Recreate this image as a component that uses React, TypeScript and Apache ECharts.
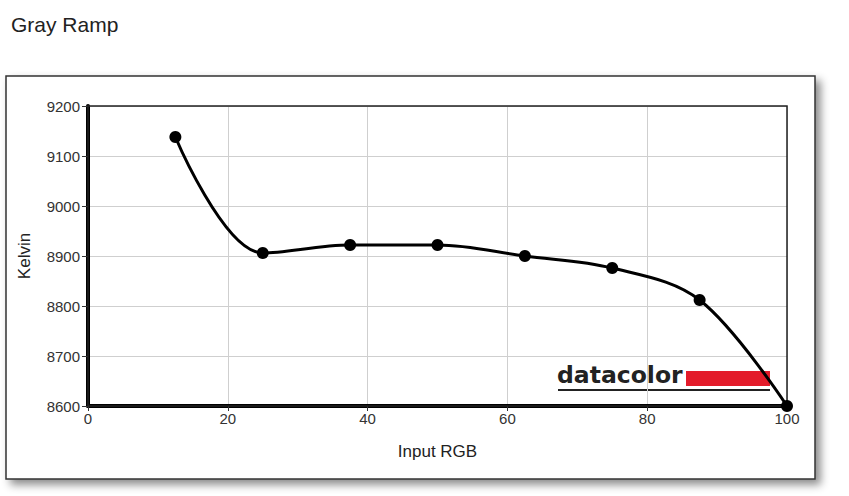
import React, { useEffect, useRef } from "react";
import * as echarts from "echarts";

const inputRGB = [12.5, 25, 37.5, 50, 62.5, 75, 87.5, 100];
const kelvin = [9138, 8906, 8922, 8922, 8900, 8876, 8812, 8600];
const xTicks = [0, 20, 40, 60, 80, 100];
const yTicks = [8600, 8700, 8800, 8900, 9000, 9100, 9200];
const titleText = "Gray Ramp";
const xName = "Input RGB";
const yName = "Kelvin";
const logoText = "datacolor";

export default function App() {
  const ref = useRef<HTMLDivElement>(null);
  useEffect(() => {
    if (!ref.current) return;
    const chart = echarts.init(ref.current, null, { renderer: "svg" });
    const font = "Liberation Sans, Arial, sans-serif";
    chart.setOption({
      animation: false,
      backgroundColor: "#fff",
      title: {
        text: titleText,
        left: 6,
        top: 9,
        textStyle: { fontFamily: font, fontSize: 21, fontWeight: "normal", color: "#222" },
      },
      grid: {
        left: 88,
        top: 106,
        right: 62,
        bottom: 90,
        show: true,
        borderColor: "#222",
        borderWidth: 1.5,
        backgroundColor: "transparent",
        z: 3,
      },
      xAxis: {
        type: "value",
        min: xTicks[0],
        max: xTicks[xTicks.length - 1],
        interval: 20,
        name: xName,
        nameLocation: "middle",
        nameGap: 37,
        nameTextStyle: { fontFamily: font, fontSize: 17, color: "#222" },
        axisLine: { show: true, lineStyle: { color: "#000", width: 4 } },
        axisTick: { show: true, length: 5, lineStyle: { color: "#333", width: 1 } },
        axisLabel: { fontFamily: font, fontSize: 15, color: "#333", margin: 5 },
        splitLine: { show: true, lineStyle: { color: "#cfcfcf", width: 1 } },
      },
      yAxis: {
        type: "value",
        min: yTicks[0],
        max: yTicks[yTicks.length - 1],
        interval: 100,
        name: yName,
        nameLocation: "middle",
        nameGap: 55,
        nameRotate: 90,
        nameTextStyle: { fontFamily: font, fontSize: 17, color: "#222" },
        axisLine: { show: true, lineStyle: { color: "#000", width: 4 } },
        axisTick: { show: true, length: 6, lineStyle: { color: "#333", width: 1 } },
        axisLabel: {
          fontFamily: font,
          fontSize: 15,
          color: "#333",
          margin: 8,
          formatter: (v: number) => String(v),
        },
        splitLine: { show: true, lineStyle: { color: "#cfcfcf", width: 1 } },
      },
      graphic: [
        {
          type: "rect",
          z: -10,
          silent: true,
          shape: { x: 6, y: 76, width: 809, height: 403 },
          style: {
            fill: "#fff",
            stroke: "#333",
            lineWidth: 1.5,
            shadowBlur: 8,
            shadowOffsetX: 5,
            shadowOffsetY: 5,
            shadowColor: "rgba(0,0,0,0.45)",
          },
        },
        {
          type: "group",
          z: 100,
          children: [
            {
              type: "text",
              x: 557,
              y: 363,
              style: {
                text: logoText,
                fontFamily: "DejaVu Sans, Verdana, sans-serif",
                fontWeight: "bold",
                fontSize: 23.5,
                fill: "#222",
              },
            },
            {
              type: "rect",
              shape: { x: 686, y: 371, width: 84, height: 15 },
              style: { fill: "#e31b2a" },
            },
            {
              type: "line",
              shape: { x1: 558, y1: 390, x2: 770, y2: 390 },
              style: { stroke: "#222", lineWidth: 2 },
            },
          ],
        },
      ],
      series: [
        {
          type: "line",
          data: inputRGB.map((x, i) => [x, kelvin[i]]),
          smooth: 0.35,
          symbol: "circle",
          symbolSize: 12,
          lineStyle: { color: "#000", width: 3 },
          itemStyle: { color: "#000" },
          z: 5,
        },
      ],
    });
    return () => chart.dispose();
  }, []);
  return (
    <div
      ref={ref}
      style={{ position: "absolute", left: 0, top: 0, width: 849, height: 496 }}
    />
  );
}
